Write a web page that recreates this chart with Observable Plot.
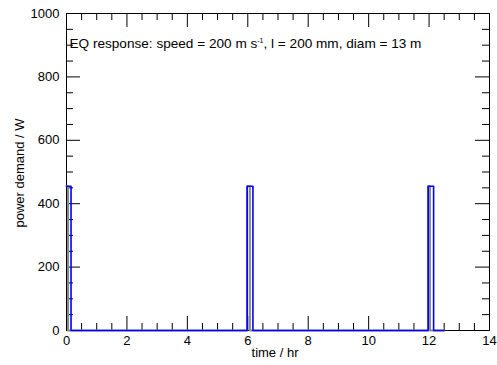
<!DOCTYPE html>
<html><head><meta charset="utf-8">
<script src="https://cdn.jsdelivr.net/npm/d3@7"></script>
<script src="https://cdn.jsdelivr.net/npm/@observablehq/plot@0.6"></script>
<style>html,body{margin:0;padding:0;background:#fff}svg{display:block}</style>
</head><body><div id="chart"></div>
<script>
// Data
const blueTime  = [0, 0.15, 5.98, 6.17, 11.97, 12.15, 12.5];
const bluePower = [455, 0, 455, 0, 455, 0, 0];
const grayTime  = [0, 0.05, 5.98, 6.07, 11.97, 12.03, 12.5];
const grayPower = [455, 0, 455, 0, 455, 0, 0];
const xTicks = [0, 2, 4, 6, 8, 10, 12, 14];
const yTicks = [0, 200, 400, 600, 800, 1000];
const xMinor = d3.range(0, 14.001, 0.5).filter(v => v % 2 !== 0);
const yMinor = d3.range(0, 1000.1, 50).filter(v => v % 200 !== 0);
const titleText = "EQ response: speed = 200 m s";
const titleSup = "-1";
const titleRest = ", l = 200 mm, diam = 13 m";
const xLabel = "time / hr";
const yLabel = "power demand / W";

const W = 497, H = 365;
const mL = 66, mR = 8, mT = 13, mB = 35;
const xMax = 14, yMax = 1000;
// tick lengths (pixels) converted to data units
const pxX = (W - mL - mR) / xMax, pxY = (H - mT - mB) / yMax;
const majX = 14 / pxX, minX = 7 / pxX, majY = 14 / pxY, minY = 7 / pxY;

const blue = blueTime.map((t, i) => ({t, p: bluePower[i]}));
const gray = grayTime.map((t, i) => ({t, p: grayPower[i]}));

const chart = Plot.plot({
  width: W, height: H,
  marginLeft: mL, marginRight: mR, marginTop: mT, marginBottom: mB,
  style: {fontFamily: "'Liberation Sans', Arial, Helvetica, sans-serif", fontSize: "13px", color: "black", background: "white"},
  x: {domain: [0, xMax]},
  y: {domain: [0, yMax]},
  marks: [
    Plot.axisX(xTicks, {tickSize: 0, tickPadding: 5, label: null, tickFormat: d => String(d)}),
    Plot.axisY(yTicks, {tickSize: 0, tickPadding: 7, label: null, tickFormat: d => String(d)}),
    // bottom / top ticks
    Plot.ruleX(xTicks, {x: d => d, y1: 0, y2: majY, stroke: "black"}),
    Plot.ruleX(xTicks, {x: d => d, y1: yMax, y2: yMax - majY, stroke: "black"}),
    Plot.ruleX(xMinor, {x: d => d, y1: 0, y2: minY, stroke: "black"}),
    Plot.ruleX(xMinor, {x: d => d, y1: yMax, y2: yMax - minY, stroke: "black"}),
    // left / right ticks
    Plot.ruleY(yTicks, {y: d => d, x1: 0, x2: majX, stroke: "black"}),
    Plot.ruleY(yTicks, {y: d => d, x1: xMax, x2: xMax - majX, stroke: "black"}),
    Plot.ruleY(yMinor, {y: d => d, x1: 0, x2: minX, stroke: "black"}),
    Plot.ruleY(yMinor, {y: d => d, x1: xMax, x2: xMax - minX, stroke: "black"}),
    Plot.frame({stroke: "black", strokeWidth: 1}),
    Plot.line(gray, {x: "t", y: "p", curve: "step-after", stroke: "#8a8a8a", strokeWidth: 2}),
    Plot.line(blue, {x: "t", y: "p", curve: "step-after", stroke: "#0000ff", strokeWidth: 1.6}),
    Plot.text([titleText], {frameAnchor: "top-left", dx: 3, dy: 30, textAnchor: "start", lineAnchor: "middle", fill: "black", fontSize: 13.6, className: "eqtitle"}),
    Plot.text([xLabel], {frameAnchor: "bottom", dx: -3, dy: 22, textAnchor: "middle", lineAnchor: "middle", fill: "black", fontSize: 13}),
    Plot.text([yLabel], {frameAnchor: "left", dx: -47, dy: 1, rotate: -90, textAnchor: "middle", lineAnchor: "middle", fill: "black", fontSize: 13})
  ]
});
document.getElementById("chart").appendChild(chart);

// add superscript to the title
const t = chart.querySelector("g.eqtitle text") || Array.from(chart.querySelectorAll("text")).find(e => e.textContent === titleText);
if (t) {
  const ns = "http://www.w3.org/2000/svg";
  const s1 = document.createElementNS(ns, "tspan");
  s1.setAttribute("font-size", "7");
  s1.setAttribute("dy", "-5");
  s1.textContent = titleSup;
  const s2 = document.createElementNS(ns, "tspan");
  s2.setAttribute("dy", "5");
  s2.textContent = titleRest;
  t.appendChild(s1);
  t.appendChild(s2);
}
</script>
</body></html>
